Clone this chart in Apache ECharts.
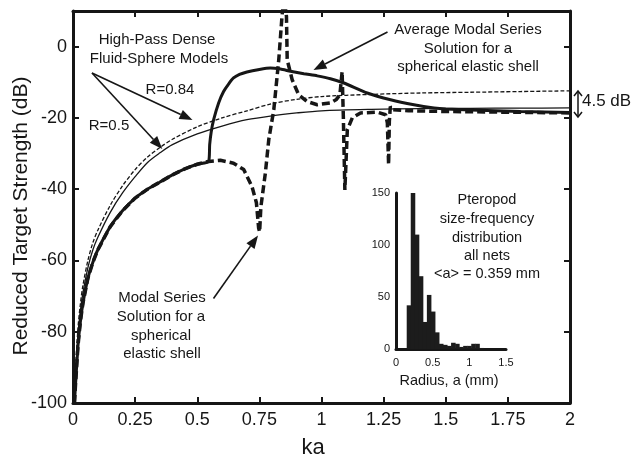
<!DOCTYPE html>
<html><head><meta charset="utf-8">
<script src="https://cdn.jsdelivr.net/npm/echarts@6/dist/echarts.min.js"></script>
<style>html,body{margin:0;padding:0;background:#fff}#c{width:634px;height:462px}</style>
</head><body><div id="c"></div>
<script>
// ---- data ----
const fluidKa = [0.006,0.01,0.02,0.03,0.04,0.06,0.08,0.1,0.15,0.2,0.25,0.3,0.35,0.4,0.5,0.6,0.7,0.8,0.9,1.0,1.2,1.4,1.6,1.8,2.0];
const fluidR084 = [-100,-91,-79,-72,-67,-60,-55,-51.5,-44.5,-39,-34.5,-31,-28.3,-26,-22.5,-20,-18,-16,-14.8,-14,-13.4,-13,-12.8,-12.6,-12.4];
const fluidR05 = [-100,-93,-81,-74,-69,-62,-57,-53.5,-46.5,-41,-36.5,-32.5,-29.8,-27.5,-24.5,-22.3,-20.5,-19.4,-18.6,-18,-17.6,-17.4,-17.3,-17.25,-17.2];

const modalKa = [0.006,0.01,0.02,0.03,0.04,0.06,0.08,0.1,0.15,0.2,0.25,0.3,0.35,0.4,0.45,0.5,0.546,0.593,0.646,0.687,0.72,0.738,0.747,0.751,0.756,0.774,0.788,0.808,0.828,0.841,0.849,0.859,0.862,0.882,0.908,0.942,0.983,1.036,1.06,1.074,1.083,1.088,1.094,1.104,1.124,1.157,1.225,1.258,1.265,1.27,1.273,1.277,1.285,1.35,1.5,1.75,2.0];
const modalTS = [-100,-95,-84,-77,-72,-65,-60.5,-57,-50.5,-46,-42.5,-40,-38,-36,-34.3,-33,-32.2,-31.9,-32.7,-34.5,-39.2,-43.8,-50.9,-52,-45,-35.5,-26,-17.7,-3.7,8.5,14,8.5,-3.7,-9.3,-13.5,-15.4,-16.3,-15.8,-14.8,-13.5,-7,-20,-40.2,-23.3,-20,-18.6,-18.4,-19.1,-21.4,-33.1,-21,-16.8,-17.7,-18,-18.2,-18.4,-18.6];

const avgKa = [0.006,0.01,0.02,0.03,0.04,0.06,0.08,0.1,0.15,0.2,0.25,0.3,0.35,0.4,0.45,0.5,0.546,0.55,0.556,0.566,0.586,0.606,0.626,0.646,0.67,0.7,0.75,0.794,0.835,0.875,0.929,0.983,1.036,1.09,1.184,1.278,1.372,1.453,1.5,1.6,1.8,2.0];
const avgTS = [-100,-95,-84,-77,-72,-65,-60.5,-57,-50.5,-46,-42.5,-40,-38,-36,-34.3,-33,-32.2,-27.5,-24,-20.5,-15.8,-12.6,-10.5,-8.8,-7.8,-7.1,-6.4,-6.0,-6.3,-6.9,-7.6,-8.2,-9.0,-10.2,-13,-14.9,-16.3,-17.2,-17.5,-17.8,-18.2,-18.5];

const histEdges = [0.146,0.201,0.256,0.311,0.366,0.421,0.476,0.531,0.586,0.641,0.696,0.751,0.806,0.861,0.916,0.971,1.026,1.081,1.136,1.191];
const histCounts = [42,150,110,70,26,52,36,16,5,4,3,6,5,2,3,3,5,5,1];

// ---- helpers ----
const FONT = "'Liberation Sans', Arial, sans-serif";
const INK = '#161616';
const pairs = (xs, ys) => xs.map((x, i) => [x, ys[i]]);

function txt(x, y, s, size, align) {
  return { type: 'text', x: x, y: y, z: 100,
    style: { text: s, x: 0, y: 0, fill: INK, font: size + 'px ' + FONT,
      fontSize: size, fontFamily: FONT,
      align: align || 'center', textAlign: align || 'center',
      verticalAlign: 'middle', textVerticalAlign: 'middle' } };
}
function arrow(x1, y1, x2, y2) {
  const a = Math.atan2(y2 - y1, x2 - x1), L = 13, W = 5;
  const bx = x2 - L * Math.cos(a), by = y2 - L * Math.sin(a);
  const px = -Math.sin(a) * W, py = Math.cos(a) * W;
  return [
    { type: 'line', z: 100, shape: { x1: x1, y1: y1, x2: bx, y2: by }, style: { stroke: INK, lineWidth: 1.6 } },
    { type: 'polygon', z: 100, shape: { points: [[x2, y2], [bx + px, by + py], [bx - px, by - py]] }, style: { fill: INK } }
  ];
}

const graphics = [].concat(
  [txt(157, 40, 'High-Pass Dense', 15), txt(159, 59, 'Fluid-Sphere Models', 15),
   txt(170, 90, 'R=0.84', 15), txt(109, 126, 'R=0.5', 15),
   txt(468, 30, 'Average Modal Series', 15), txt(468, 49, 'Solution for a', 15), txt(468, 67, 'spherical elastic shell', 15),
   txt(162, 298, 'Modal Series', 15), txt(161, 317, 'Solution for a', 15), txt(161, 336, 'spherical', 15), txt(162, 354, 'elastic shell', 15),
   txt(487, 200, 'Pteropod', 14.5), txt(487, 219, 'size-frequency', 14.5), txt(487, 237.5, 'distribution', 14.5),
   txt(487, 256, 'all nets', 14.5), txt(487, 274, '<a> = 0.359 mm', 14.5),
   txt(449, 381, 'Radius, a (mm)', 14.5),
   txt(582, 101, '4.5 dB', 17, 'left'),
   txt(313, 448, 'ka', 22)],
  [{ type: 'text', x: 21, y: 216, rotation: Math.PI / 2, z: 100,
     style: { text: 'Reduced Target Strength (dB)', x: 0, y: 0, fill: INK, font: '21px ' + FONT, fontSize: 21, fontFamily: FONT,
       align: 'center', textAlign: 'center', verticalAlign: 'middle', textVerticalAlign: 'middle' } }],
  arrow(92, 73, 192.5, 120), arrow(92, 73, 162.3, 149),
  arrow(387.5, 32, 313.5, 70), arrow(213.5, 298.5, 258, 235.5),
  [{ type: 'line', z: 100, shape: { x1: 578, y1: 91, x2: 578, y2: 117 }, style: { stroke: INK, lineWidth: 1.5 } },
   { type: 'polyline', z: 100, shape: { points: [[574, 96], [578, 91], [582, 96]] }, style: { stroke: INK, lineWidth: 1.5, fill: null } },
   { type: 'polyline', z: 100, shape: { points: [[574, 112], [578, 117], [582, 112]] }, style: { stroke: INK, lineWidth: 1.5, fill: null } }]
);

const axLine = { show: true, onZero: false, lineStyle: { color: INK, width: 3 } };
const tick = { show: true, inside: true, length: 6, lineStyle: { color: INK, width: 2 } };

const chart = echarts.init(document.getElementById('c'), null, { renderer: 'canvas' });
chart.setOption({
  animation: false,
  backgroundColor: '#fff',
  grid: [
    { left: 73, top: 11, width: 497, height: 392 },
    { left: 396, top: 193, width: 110, height: 156 }
  ],
  xAxis: [
    { type: 'value', gridIndex: 0, min: 0, max: 2, interval: 0.25, position: 'bottom',
      axisLine: axLine, axisTick: tick, splitLine: { show: false },
      axisLabel: { color: INK, fontSize: 18, fontFamily: FONT, margin: 8 } },
    { type: 'value', gridIndex: 0, min: 0, max: 2, interval: 0.25, position: 'top',
      axisLine: axLine, axisTick: tick, splitLine: { show: false }, axisLabel: { show: false } },
    { type: 'value', gridIndex: 1, min: 0, max: 1.5, interval: 0.5,
      axisLine: axLine, axisTick: { show: false }, splitLine: { show: false },
      axisLabel: { color: INK, fontSize: 11, fontFamily: FONT, margin: 8 } }
  ],
  yAxis: [
    { type: 'value', gridIndex: 0, min: -100, max: 10, interval: 20, position: 'left',
      axisLine: axLine, axisTick: tick, splitLine: { show: false },
      axisLabel: { color: INK, fontSize: 18, fontFamily: FONT, margin: 6, showMaxLabel: false,
        formatter: v => (v > 0 ? '' : String(v)) } },
    { type: 'value', gridIndex: 0, min: -100, max: 10, interval: 20, position: 'right',
      axisLine: axLine, axisTick: tick, splitLine: { show: false }, axisLabel: { show: false } },
    { type: 'value', gridIndex: 1, min: 0, max: 150, interval: 50,
      axisLine: axLine, axisTick: { show: false }, splitLine: { show: false },
      axisLabel: { color: INK, fontSize: 11, fontFamily: FONT, margin: 6 } }
  ],
  series: [
    { name: 'R=0.84', type: 'line', xAxisIndex: 0, yAxisIndex: 0, data: pairs(fluidKa, fluidR084),
      smooth: 0.3, showSymbol: false, lineStyle: { color: INK, width: 1.3, type: [4, 2] } },
    { name: 'R=0.5', type: 'line', xAxisIndex: 0, yAxisIndex: 0, data: pairs(fluidKa, fluidR05),
      smooth: 0.3, showSymbol: false, lineStyle: { color: INK, width: 1.3 } },
    { name: 'Average modal', type: 'line', xAxisIndex: 0, yAxisIndex: 0, data: pairs(avgKa, avgTS),
      smooth: 0.2, showSymbol: false, lineStyle: { color: INK, width: 3 } },
    { name: 'Modal', type: 'line', xAxisIndex: 0, yAxisIndex: 0, data: pairs(modalKa, modalTS),
      showSymbol: false, lineStyle: { color: INK, width: 3.5, type: [8, 4] } },
    { name: 'Pteropod', type: 'custom', xAxisIndex: 2, yAxisIndex: 2,
      data: histCounts.map((c, i) => [histEdges[i], histEdges[i + 1], c]),
      encode: { x: [0, 1], y: 2 },
      renderItem: (params, api) => {
        const p0 = api.coord([api.value(0), api.value(2)]);
        const p1 = api.coord([api.value(1), 0]);
        return { type: 'rect', shape: { x: p0[0], y: p0[1], width: p1[0] - p0[0] + 0.5, height: p1[1] - p0[1] },
          style: { fill: '#1c1c1c' } };
      } }
  ],
  graphic: graphics
});
</script></body></html>
